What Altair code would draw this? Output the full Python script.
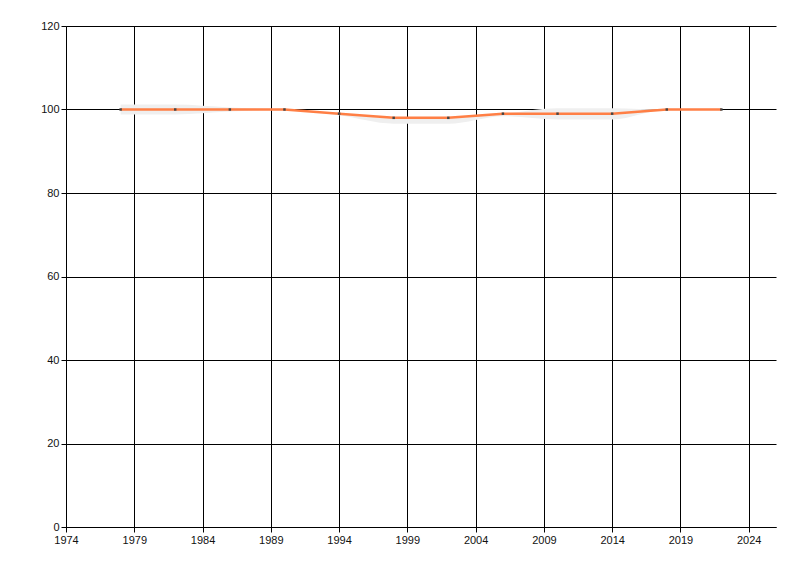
import altair as alt
import pandas as pd

years = [1978, 1982, 1986, 1990, 1994, 1998, 2002, 2006, 2010, 2014, 2018, 2022]
values = [100, 100, 100, 100, 99, 98, 98, 99, 99, 99, 100, 100]
upper = [101.2, 101.2, 100.5, 100.0, 99.0, 98.0, 98.0, 99.0, 100.3, 100.3, 100.0, 100.0]
lower = [98.8, 98.8, 99.5, 100.0, 98.6, 96.6, 96.6, 98.4, 97.6, 97.6, 100.0, 100.0]

x_ticks = list(range(1974, 2025, 5))
y_ticks = [0, 20, 40, 60, 80, 100, 120]

df = pd.DataFrame({"year": years, "value": values, "upper": upper, "lower": lower})

x = alt.X("year:Q", scale=alt.Scale(domain=[1974, 2026], nice=False, zero=False),
          axis=alt.Axis(values=x_ticks, format="d", title=None, labelFlush=False))
y = alt.Y("value:Q", scale=alt.Scale(domain=[0, 120], nice=False),
          axis=alt.Axis(values=y_ticks, title=None))

band = alt.Chart(df).mark_area(color="#efefef", interpolate="monotone").encode(
    x=x, y=alt.Y("lower:Q", scale=alt.Scale(domain=[0, 120], nice=False), axis=alt.Axis(values=y_ticks, title=None)),
    y2="upper:Q")
line = alt.Chart(df).mark_line(color="#ff7f45", strokeWidth=2.5, interpolate="linear").encode(x=x, y=y)
pts = alt.Chart(df).mark_square(color="#444444", size=6, opacity=1).encode(x=x, y=y)

chart = (band + line + pts).properties(
    width=710, height=501,
    autosize=alt.AutoSizeParams(type="none"),
    padding={"left": 58, "top": 18, "right": 6, "bottom": 36},
).configure_view(stroke=None).configure_axis(
    grid=True, gridColor="black", gridOpacity=1, gridWidth=1,
    domainColor="black", tickColor="black", tickSize=5,
    labelFont="Liberation Sans", labelFontSize=11, labelColor="#111111",
    labelPadding=2,
)

chart.save("out.html", embed_options={"renderer": "svg", "actions": False})
